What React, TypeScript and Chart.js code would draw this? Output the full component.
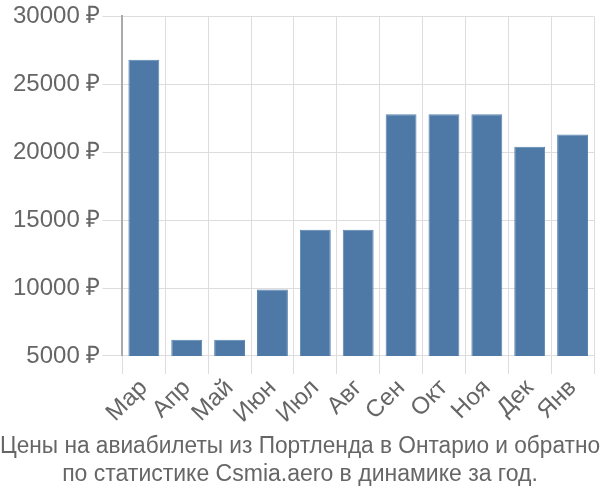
import React, { useEffect, useRef } from "react";
import { Chart, registerables } from "chart.js";

Chart.register(...registerables);

const categories = ["Мар", "Апр", "Май", "Июн", "Июл", "Авг", "Сен", "Окт", "Ноя", "Дек", "Янв"];
const prices = [26800, 6200, 6200, 9900, 14300, 14300, 22800, 22800, 22800, 20400, 21300];
const titleLines = [
  "Цены на авиабилеты из Портленда в Онтарио и обратно",
  "по статистике Csmia.aero в динамике за год.",
];

const FONT = "'Liberation Sans', Arial, sans-serif";

export default function App() {
  const ref = useRef<HTMLCanvasElement>(null);
  useEffect(() => {
    document.body.style.margin = "0";
    const chart = new Chart(ref.current!, {
      type: "bar",
      data: {
        labels: categories,
        datasets: [
          {
            data: prices,
            backgroundColor: "#4e79a7",
            borderColor: "#5a84b0",
            borderWidth: 1,
          },
        ],
      },
      options: {
        responsive: false,
        animation: false,
        layout: { padding: { top: 5, right: 0, left: 0, bottom: 12 } },
        plugins: {
          legend: { display: false },
          tooltip: { enabled: false },
          title: {
            display: true,
            position: "bottom",
            text: titleLines,
            color: "#666",
            font: { family: FONT, size: 23, weight: "normal" },
            padding: { top: 4, bottom: 0 },
            lineHeight: 1.13,
          },
        },
        scales: {
          x: {
            grid: { color: "#ddd", lineWidth: 1, tickLength: 18, offset: true },
            border: { color: "#ddd" },
            ticks: {
              color: "#666",
              font: { family: FONT, size: 24 },
              maxRotation: 45,
              minRotation: 45,
              autoSkip: false,
              padding: 0,
            },
          },
          y: {
            min: 5000,
            max: 30000,
            grid: { color: "#ddd", lineWidth: 1, tickLength: 20 },
            border: { color: "#aaa", width: 2 },
            ticks: {
              stepSize: 5000,
              color: "#666",
              font: { family: FONT, size: 24 },
              padding: 2,
              callback: (v: any) => `${v} ₽`,
            },
            afterFit: (s: any) => {
              s.width += 11;
            },
          },
          yRight: {
            position: "right",
            display: true,
            grid: { display: false },
            border: { display: false },
            ticks: { display: false },
            afterFit: (s: any) => {
              s.width = 6;
            },
          },
        },
      },
    });
    return () => chart.destroy();
  }, []);
  return (
    <div style={{ width: 600, height: 500 }}>
      <canvas ref={ref} width={600} height={500} />
    </div>
  );
}
